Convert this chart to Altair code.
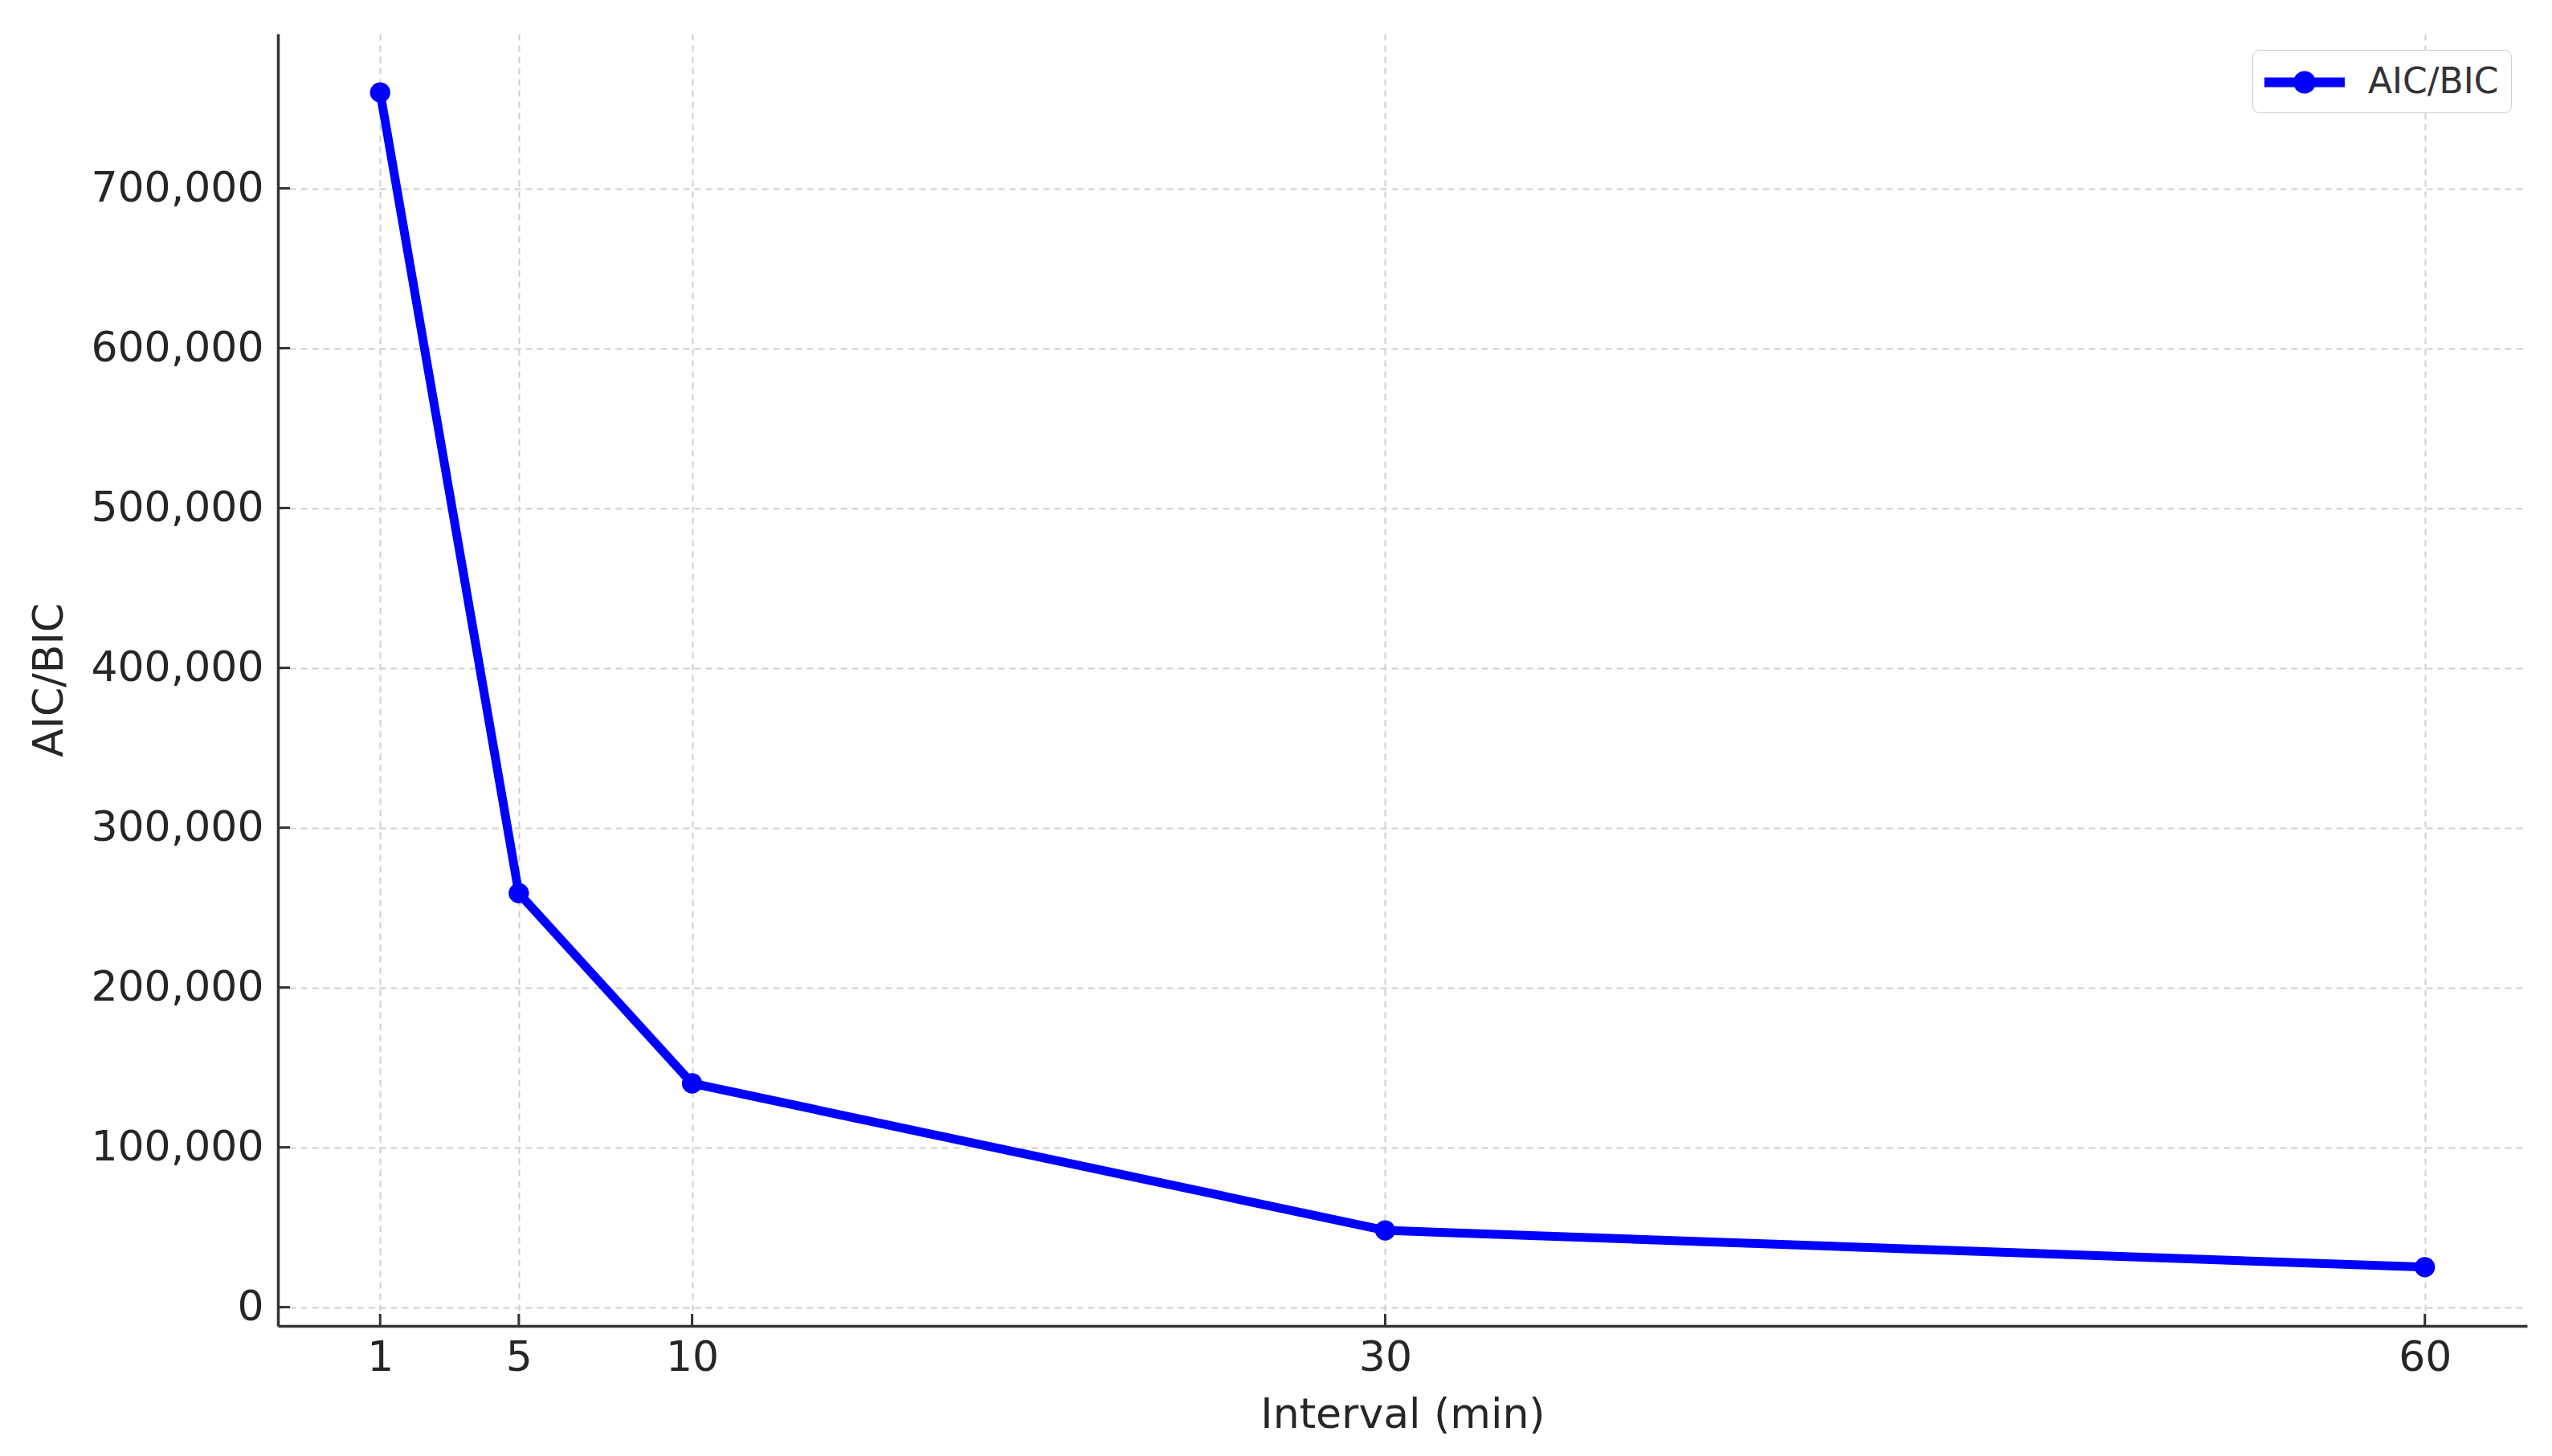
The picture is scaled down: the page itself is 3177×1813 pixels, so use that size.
import altair as alt
import pandas as pd

INTERVALS = [1, 5, 10, 30, 60]
AIC_BIC = [760000, 259000, 140000, 48000, 25000]
SERIES = "AIC/BIC"
X_TICKS = [1, 5, 10, 30, 60]
Y_TICKS = [0, 100000, 200000, 300000, 400000, 500000, 600000, 700000]
X_TITLE = "Interval (min)"
Y_TITLE = "AIC/BIC"

W, H = 2800, 1609
FONT = "DejaVu Sans"
BLUE = "#0000ff"
INK = "#262626"

df = pd.DataFrame({"interval": INTERVALS, "value": AIC_BIC,
                   "series": [SERIES] * len(INTERVALS)})
xt = pd.DataFrame({"t": X_TICKS})
yt = pd.DataFrame({"t": Y_TICKS})

xscale = alt.Scale(domain=[-1.95, 62.95], nice=False, zero=False)
yscale = alt.Scale(domain=[-11750, 796750], nice=False, zero=False)

common = dict(grid=True, gridDash=[8, 6], gridColor="#cfcfcf", gridWidth=2,
              ticks=False, domainColor="#333333", domainWidth=3.5,
              labelFontSize=52, titleFontSize=52, labelFont=FONT, titleFont=FONT,
              labelColor=INK, titleColor=INK, titleFontWeight="normal",
              labelLimit=600, titleLimit=1000)

xaxis = alt.Axis(values=X_TICKS, title=X_TITLE, format="d",
                 labelPadding=14, titlePadding=20, **common)
yaxis = alt.Axis(values=Y_TICKS, title=Y_TITLE, format=",d",
                 labelPadding=18, titleX=-285, titleY=H / 2,
                 titleAngle=270, titleBaseline="middle", titleAlign="center",
                 **common)

# legend glyph: a line with a dot, drawn as one filled path (unit = sqrt(size)/2 px)
LEGEND_PATH = ("M-1,-0.235 H2.92 V0.235 H-1 Z "
               "M0.411,0 A0.549,0.549 0 1,1 1.509,0 A0.549,0.549 0 1,1 0.411,0 Z")

line = alt.Chart(df).mark_line(color=BLUE, strokeWidth=11).encode(
    x=alt.X("interval:Q", scale=xscale, axis=xaxis),
    y=alt.Y("value:Q", scale=yscale, axis=yaxis),
)

points = alt.Chart(df).mark_circle(size=640, opacity=1).encode(
    x=alt.X("interval:Q", scale=xscale, axis=xaxis),
    y=alt.Y("value:Q", scale=yscale, axis=yaxis),
    color=alt.Color("series:N",
                    scale=alt.Scale(domain=[SERIES], range=[BLUE]),
                    legend=alt.Legend(title=None, orient="top-right", offset=20,
                                      symbolType=LEGEND_PATH, symbolSize=2601,
                                      symbolStrokeWidth=0, symbolOpacity=1,
                                      labelOffset=78, labelFontSize=44,
                                      labelFont=FONT, labelColor="#333333",
                                      labelLimit=600,
                                      strokeColor="#cccccc", fillColor="#ffffff",
                                      cornerRadius=9, padding=15)),
)

yticks = alt.Chart(yt).mark_rule(color="#333333", strokeWidth=3).encode(
    y=alt.Y("t:Q", scale=yscale, axis=yaxis),
    x=alt.value(0), x2=alt.value(15),
)
xticks = alt.Chart(xt).mark_rule(color="#333333", strokeWidth=3).encode(
    x=alt.X("t:Q", scale=xscale, axis=xaxis),
    y=alt.value(H), y2=alt.value(H - 15),
)

chart = alt.layer(line, points, yticks, xticks).properties(
    width=W, height=H, background="#ffffff",
    padding={"left": 27, "top": 34, "right": 5, "bottom": 5},
).configure_view(stroke=None, strokeWidth=0)

chart.save("out.html", embed_options={"renderer": "svg", "actions": False})
